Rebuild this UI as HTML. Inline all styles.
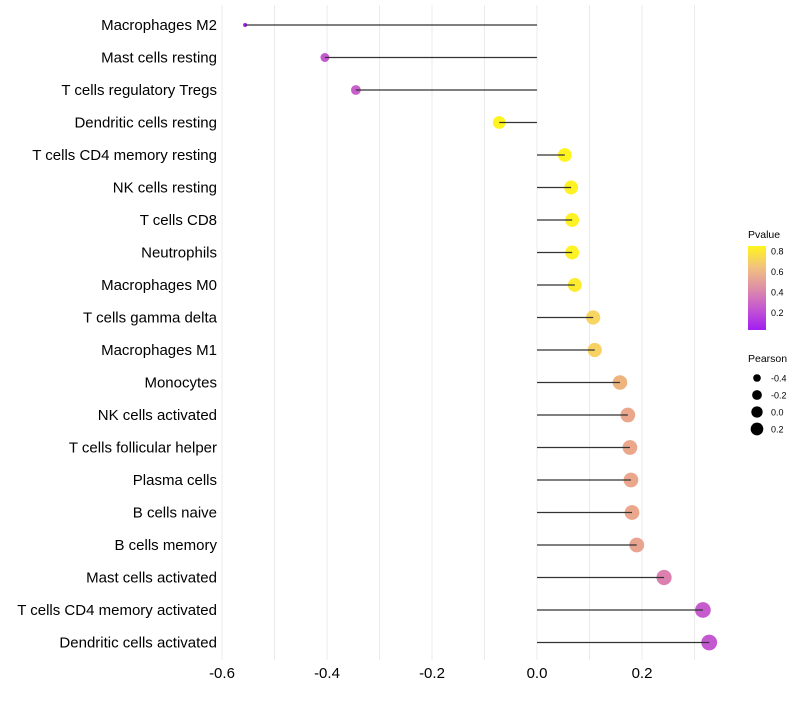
<!DOCTYPE html>
<html><head><meta charset="utf-8"><style>
body{margin:0;background:#fff;font-family:"Liberation Sans",sans-serif;}
</style></head><body>
<svg id="chart" width="800" height="700" xmlns="http://www.w3.org/2000/svg">
<defs><linearGradient id="pg" x1="0" y1="1" x2="0" y2="0">
<stop offset="0" stop-color="#A21EF2"/><stop offset="0.25" stop-color="#C456D2"/><stop offset="0.5" stop-color="#DE8FA6"/><stop offset="0.75" stop-color="#F2C27E"/><stop offset="1" stop-color="#FFF51C"/></linearGradient></defs>
<g id="grid"></g><g id="dots"></g><g id="marks"></g><g id="labels"></g><g id="legend"></g>
</svg>
<script>
const categories=["Macrophages M2","Mast cells resting","T cells regulatory  Tregs","Dendritic cells resting","T cells CD4 memory resting","NK cells resting","T cells CD8","Neutrophils","Macrophages M0","T cells gamma delta","Macrophages M1","Monocytes","NK cells activated","T cells follicular helper","Plasma cells","B cells naive","B cells memory","Mast cells activated","T cells CD4 memory activated","Dendritic cells activated"];
const pearson=[-0.556,-0.404,-0.345,-0.072,0.053,0.065,0.067,0.067,0.072,0.107,0.110,0.158,0.173,0.177,0.179,0.181,0.190,0.242,0.316,0.328];
const pvalue=[0.03,0.2,0.22,0.84,0.84,0.83,0.83,0.83,0.8,0.68,0.67,0.55,0.46,0.46,0.46,0.46,0.44,0.32,0.21,0.2];
const xTicks=[-0.6,-0.4,-0.2,0.0,0.2];
const pLegend=[0.2,0.4,0.6,0.8];
const sLegend=[-0.4,-0.2,0.0,0.2];
const NS="http://www.w3.org/2000/svg";
const x=v=>537+v*525;
const y=i=>25+i*32.5;
const r=v=>2+5.9*Math.sqrt(Math.max(0,(v+0.556)/0.884));
const stops=[[0.03,[162,30,242]],[0.2,[196,88,208]],[0.32,[220,128,176]],[0.45,[233,166,142]],[0.55,[238,180,126]],[0.68,[248,212,96]],[0.85,[255,245,28]]];
function col(p){if(p<=stops[0][0])return `rgb(${stops[0][1]})`;for(let k=1;k<stops.length;k++){if(p<=stops[k][0]){const a=stops[k-1],b=stops[k],t=(p-a[0])/(b[0]-a[0]);return `rgb(${a[1].map((c,j)=>Math.round(c+(b[1][j]-c)*t))})`;}}return `rgb(${stops[stops.length-1][1]})`;}
function mk(t,at,par){const e=document.createElementNS(NS,t);for(const k in at)e.setAttribute(k,at[k]);document.getElementById(par).appendChild(e);return e;}
for(let v=-0.6;v<=0.35;v+=0.1){const g=mk('line',{x1:x(v),x2:x(v),y1:5,y2:660,stroke:'#ebebeb','stroke-width':1},'grid');

}
xTicks.forEach(v=>{const t=mk('text',{x:x(v),y:678,'text-anchor':'middle','font-size':15,fill:'#000'},'labels');t.textContent=v.toFixed(1);

});
categories.forEach((c,i)=>{const t=mk('text',{x:217,y:y(i)+5,'text-anchor':'end','font-size':15,fill:'#000'},'labels');t.textContent=c;


const d=mk('circle',{cx:x(pearson[i]),cy:y(i),r:r(pearson[i]),fill:col(pvalue[i])},'dots');


const l=mk('line',{x1:x(0),x2:x(pearson[i]),y1:y(i),y2:y(i),stroke:'#333','stroke-width':1.3},'marks');

});
let t=mk('text',{x:748,y:238,'font-size':10.5},'legend');t.textContent='Pvalue';


const cb=mk('rect',{x:748,y:246,width:18,height:84,fill:'url(#pg)'},'legend');


pLegend.forEach(p=>{const yy=330-(p-0.03)/0.82*84;
const tl=mk('text',{x:771,y:yy+3.5,'font-size':9},'legend');tl.textContent=p.toFixed(1);

});
t=mk('text',{x:748,y:362,'font-size':10.5},'legend');t.textContent='Pearson';


sLegend.forEach((s,k)=>{const yy=378+k*17;
const c=mk('circle',{cx:757,cy:yy,r:r(s)*0.85,fill:'#000'},'legend');


const tl=mk('text',{x:771,y:yy+3.5,'font-size':9},'legend');tl.textContent=s.toFixed(1);

});
</script>
</body></html>
